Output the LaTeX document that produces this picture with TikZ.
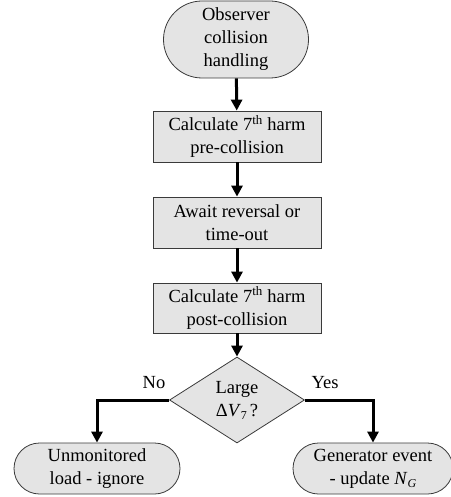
\documentclass[tikz,border=0pt]{standalone}
\usepackage{fontspec}
\setmainfont{Liberation Serif}
\usetikzlibrary{shapes.geometric,shapes.misc,arrows.meta}
\definecolor{boxfill}{HTML}{E4E4E4}
\definecolor{boxline}{HTML}{3A3A3A}
\newcommand{\harmsub}[1]{\raisebox{-0.35ex}{\fontsize{12}{12}\selectfont #1}}
\begin{document}
\begin{tikzpicture}[x=1pt,y=-1pt,
  base/.style={fill=boxfill,draw=boxline,line width=0.8pt,inner sep=0pt,
    align=center,font=\fontsize{18.5}{23}\selectfont},
  terminal/.style={base,rounded rectangle,rounded rectangle arc length=180},
  process/.style={base,rectangle},
  decision/.style={base,diamond,aspect=1.57},
  flow/.style={line width=3pt,-{Triangle[length=11pt,width=11pt]}},
  branch/.style={font=\fontsize{18.5}{23}\selectfont,inner sep=0pt}]
  \useasboundingbox (0,0) rectangle (450,497);

  % main column
  \node[terminal,minimum width=145pt,minimum height=77pt] (start) at (236,39.5)
    {Observer\\collision\\handling};
  \node[process,minimum width=168pt,minimum height=51pt] (pre) at (237,136.5)
    {Calculate 7\textsuperscript{th} harm\\pre-collision};
  \node[process,minimum width=168pt,minimum height=51pt] (await) at (237,222.5)
    {Await reversal or\\time-out};
  \node[process,minimum width=168pt,minimum height=50pt] (post) at (237,308)
    {Calculate 7\textsuperscript{th} harm\\post-collision};
  \node[decision,minimum width=135pt,minimum height=86pt] (large) at (237,400)
    {Large\\Δ\textit{V}\harmsub{7}\,?};

  % outcomes
  \node[terminal,minimum width=166pt,minimum height=51pt] (ignore) at (97,468.5)
    {Unmonitored\\load - ignore};
  \node[terminal,minimum width=160pt,minimum height=51pt] (event) at (373,468.5)
    {Generator event\\- update \textit{N}\harmsub{\textit{G}}};

  % connectors
  \draw[flow] (start) -- (pre);
  \draw[flow] (pre) -- (await);
  \draw[flow] (await) -- (post);
  \draw[flow] (post) -- (large);
  \draw[flow] (large.west) -| (ignore.north);
  \draw[flow] (large.east) -| (event.north);

  % branch labels
  \node[branch] (no) at (154,383) {No};
  \node[branch] (yes) at (325,383) {Yes};
\end{tikzpicture}
\end{document}
